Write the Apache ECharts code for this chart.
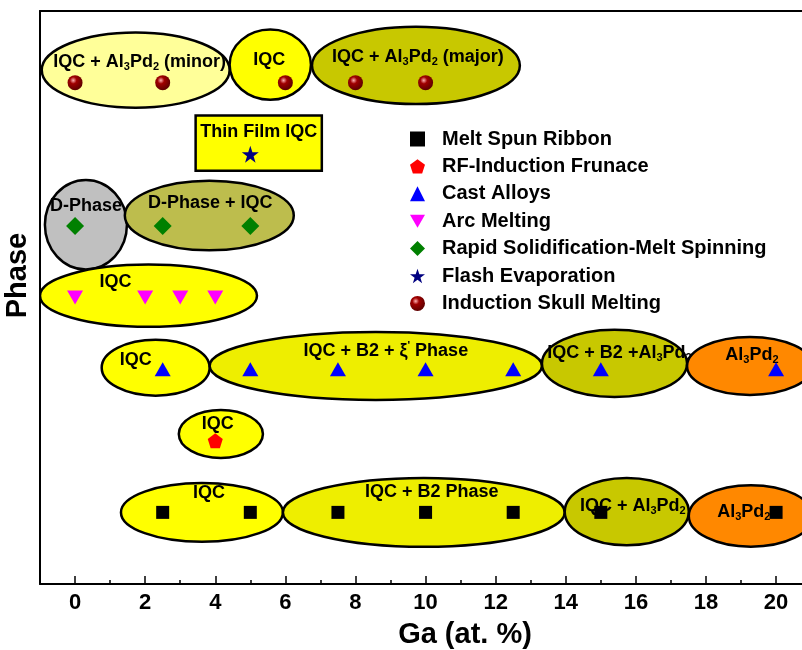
<!DOCTYPE html>
<html>
<head>
<meta charset="utf-8">
<script src="https://cdn.jsdelivr.net/npm/echarts@6/dist/echarts.min.js"></script>
<style>html,body{margin:0;padding:0;background:#fff}#chart{width:802px;height:650px}</style>
</head>
<body>
<div id="chart"></div>
<script>
// ---------- data ----------
const methods = ['Melt Spun Ribbon', 'RF-Induction Frunace', 'Cast Alloys', 'Arc Melting',
  'Rapid Solidification-Melt Spinning', 'Flash Evaporation', 'Induction Skull Melting'];
const methodRow = [1, 2, 3, 4, 5, 6, 7];
const gaMeltSpun = [2.5, 5, 7.5, 10, 12.5, 15, 20];
const gaRFInduction = [4];
const gaCastAlloys = [2.5, 5, 7.5, 10, 12.5, 15, 20];
const gaArcMelting = [0, 2, 3, 4];
const gaRapidSolid = [0, 2.5, 5];
const gaFlashEvap = [5];
const gaSkullMelting = [0, 2.5, 6, 8, 10];

const xTicks = [0, 2, 4, 6, 8, 10, 12, 14, 16, 18, 20];
const xMinorTicks = [1, 3, 5, 7, 9, 11, 13, 15, 17, 19, 21];

// phase regions (Ga range and extent on the Phase axis)
const phaseLabels = ['IQC + Al{s|3}Pd{s|2} (minor)', 'IQC', 'IQC + Al{s|3}Pd{s|2} (major)',
  'Thin Film IQC', 'D-Phase', 'D-Phase + IQC', 'IQC',
  'IQC', 'IQC + B2 + ξ{p|\'} Phase', 'IQC + B2 +Al{s|3}Pd{s|2}', 'Al{s|3}Pd{s|2}',
  'IQC', 'IQC', 'IQC + B2 Phase', 'IQC + Al{s|3}Pd{s|2}', 'Al{s|3}Pd{s|2}'];
const phaseGaFrom = [-0.95, 4.41, 6.76, 3.44, -0.86, 1.42, -1.0, 0.76, 3.84, 13.32, 17.46, 2.96, 1.31, 5.93, 13.97, 17.51];
const phaseGaTo   = [4.41, 6.73, 12.69, 7.04, 1.48, 6.24, 5.19, 3.84, 13.32, 17.46, 21.05, 5.36, 5.93, 13.97, 17.51, 21.05];
const phaseLow    = [6.65, 6.76, 6.70, 5.77, 4.39, 4.66, 3.59, 2.63, 2.57, 2.61, 2.64, 1.76, 0.59, 0.52, 0.54, 0.52];
const phaseHigh   = [7.70, 7.74, 7.78, 6.54, 5.64, 5.63, 4.46, 3.41, 3.52, 3.55, 3.45, 2.43, 1.41, 1.48, 1.48, 1.38];
const phaseKind   = ['minorAl', 'iqc', 'mixAl', 'film', 'dphase', 'dIqc', 'iqc', 'iqc', 'iqcB2', 'mixAl', 'al', 'iqc', 'iqc', 'iqcB2', 'mixAl', 'al'];

// ---------- styles ----------
const FONT = '"Liberation Sans", Arial, sans-serif';
const kindFill = { minorAl: '#FFFF99', iqc: '#FFFF00', mixAl: '#C8C800', film: '#FFFF00',
  dphase: '#C0C0C0', dIqc: '#BDBD4D', iqcB2: '#EEEE00', al: '#FF8800' };
const labelOffset = [[4, -8], [-1, -5], [2, -8], [0, -11], [0, -19], [1, -12], [-33, -14],
  [-20, -8], [10, -15], [5, -10], [2, -11], [-3, -10], [7, -19], [8, -20], [6, -6], [-7, -4]];

const phaseData = phaseGaFrom.map((v, i) => [v, phaseGaTo[i], phaseLow[i], phaseHigh[i]]);

function renderPhase(params, api) {
  const i = params.dataIndex;
  const p0 = api.coord([api.value(0), api.value(3)]);
  const p1 = api.coord([api.value(1), api.value(2)]);
  const cx = (p0[0] + p1[0]) / 2, cy = (p0[1] + p1[1]) / 2;
  const rx = (p1[0] - p0[0]) / 2, ry = (p1[1] - p0[1]) / 2;
  const kind = phaseKind[i];
  const shapeEl = kind === 'film'
    ? { type: 'rect', shape: { x: p0[0], y: p0[1], width: p1[0] - p0[0], height: p1[1] - p0[1] } }
    : { type: 'ellipse', shape: { cx: cx, cy: cy, rx: rx, ry: ry } };
  shapeEl.z2 = i * 3;
  shapeEl.style = { fill: kindFill[kind], stroke: '#000', lineWidth: 2.5 };
  const off = labelOffset[i];
  return {
    type: 'group',
    children: [shapeEl, {
      type: 'text', z2: i * 3 + 1, x: cx + off[0], y: cy + off[1],
      style: {
        text: phaseLabels[i], fill: '#000', align: 'center', verticalAlign: 'middle',
        fontFamily: FONT, fontWeight: 'bold', fontSize: 18,
        rich: {
          s: { fontFamily: FONT, fontWeight: 'bold', fontSize: 11, padding: [10, 0, 0, 0] },
          p: { fontFamily: FONT, fontWeight: 'bold', fontSize: 11, padding: [0, 0, 9, 0] }
        }
      }
    }]
  };
}

const pentagon = 'path://M50,0 L97.6,34.5 L79.4,90.5 L20.6,90.5 L2.4,34.5 Z';
const invTriangle = 'path://M0,0 L100,0 L50,87 Z';
const star = 'path://M50,0 L61.8,35.3 L97.6,35.3 L68.5,57 L79.4,92 L50,70.5 L20.6,92 L31.5,57 L2.4,35.3 L38.2,35.3 Z';
const sphere = { type: 'radial', x: 0.38, y: 0.35, r: 0.65,
  colorStops: [{ offset: 0, color: '#FFB0B0' }, { offset: 0.35, color: '#A00000' }, { offset: 1, color: '#600000' }] };

const methodGa = [gaMeltSpun, gaRFInduction, gaCastAlloys, gaArcMelting, gaRapidSolid, gaFlashEvap, gaSkullMelting];
const methodSymbol = ['rect', pentagon, 'triangle', invTriangle, 'diamond', star, 'circle'];
const methodSize = [13, 15, [16, 14], [16, 14], 18, 17, 15];
const methodColor = ['#000000', '#FF0000', '#0000FF', '#FF00FF', '#008000', '#000080', sphere];

const scatterSeries = methods.map((name, k) => ({
  name: name, type: 'scatter', z: 5,
  symbol: methodSymbol[k], symbolSize: methodSize[k],
  itemStyle: { color: methodColor[k], opacity: 1 },
  data: methodGa[k].map(g => [g, methodRow[k]])
}));

const X_MAX = 23.25;
const chart = echarts.init(document.getElementById('chart'), null, { renderer: 'canvas' });
chart.setOption({
  animation: false,
  backgroundColor: '#fff',
  textStyle: { fontFamily: FONT },
  grid: { left: 40, top: 11, width: 850, height: 573, containLabel: false, outerBoundsMode: 'none' },
  legend: {
    orient: 'vertical', left: 405, top: 124, itemWidth: 15, itemHeight: 15, itemGap: 7.4,
    data: methods, selectedMode: false,
    textStyle: { fontFamily: FONT, fontWeight: 'bold', fontSize: 20, color: '#000', padding: [0, 0, 0, 12] }
  },
  xAxis: [{
    type: 'value', min: -1, max: X_MAX, position: 'bottom',
    axisLine: { show: true, onZero: false, lineStyle: { color: '#000', width: 2 } },
    axisTick: { show: true, inside: true, length: 8, customValues: xTicks, lineStyle: { color: '#000', width: 1.5 } },
    axisLabel: { show: true, customValues: xTicks, color: '#000', fontFamily: FONT, fontWeight: 'bold', fontSize: 22, margin: 8 },
    splitLine: { show: false },
    name: 'Ga (at. %)', nameLocation: 'middle', nameGap: 36,
    nameTextStyle: { color: '#000', fontFamily: FONT, fontWeight: 'bold', fontSize: 29 }
  }, {
    type: 'value', min: -1, max: X_MAX, position: 'bottom',
    axisLine: { show: false },
    axisTick: { show: true, inside: true, length: 4, customValues: xMinorTicks, lineStyle: { color: '#000', width: 1.5 } },
    axisLabel: { show: false }, splitLine: { show: false }
  }, {
    type: 'value', min: -1, max: X_MAX, position: 'top',
    axisLine: { show: true, onZero: false, lineStyle: { color: '#000', width: 2 } },
    axisTick: { show: false }, axisLabel: { show: false }, splitLine: { show: false }
  }],
  yAxis: {
    type: 'value', min: 0, max: 8,
    axisLine: { show: true, onZero: false, lineStyle: { color: '#000', width: 2 } },
    axisTick: { show: false }, axisLabel: { show: false }, splitLine: { show: false },
    name: 'Phase', nameLocation: 'middle', nameGap: 8, nameRotate: 90,
    nameTextStyle: { color: '#000', fontFamily: FONT, fontWeight: 'bold', fontSize: 29, padding: [0, 0, 0, 44] }
  },
  series: [{
    type: 'custom', name: 'phases', z: 1, clip: true,
    renderItem: renderPhase, data: phaseData,
    encode: { x: [0, 1], y: [2, 3] }
  }].concat(scatterSeries)
});
</script>
</body>
</html>
